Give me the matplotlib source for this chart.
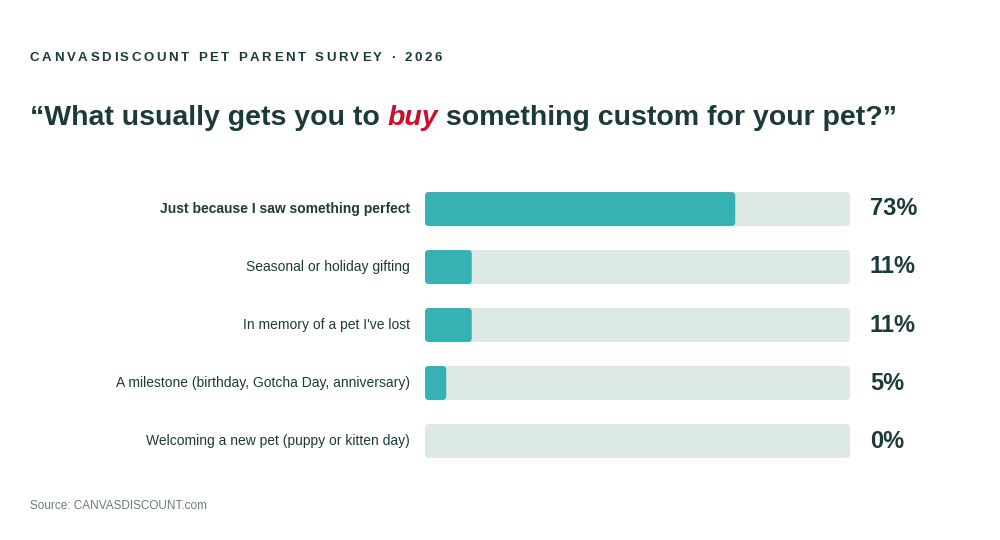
import matplotlib.pyplot as plt
from matplotlib.patches import FancyBboxPatch

plt.rcParams['font.family'] = ['Liberation Sans', 'DejaVu Sans']

categories = [
    "Just because I saw something perfect",
    "Seasonal or holiday gifting",
    "In memory of a pet I've lost",
    "A milestone (birthday, Gotcha Day, anniversary)",
    "Welcoming a new pet (puppy or kitten day)",
]
values = [73, 11, 11, 5, 0]
value_labels = ["73%", "11%", "11%", "5%", "0%"]

DARK = "#1c3a3a"
TEAL = "#36b1b4"
TRACK = "#dde9e5"
RED = "#c8102e"

fig = plt.figure(figsize=(10, 5.4), dpi=100)
fig.patch.set_facecolor("white")
ax = fig.add_axes([0.425, 70 / 540, 0.425, 290 / 540])
ax.set_xlim(0, 100)
ax.set_ylim(4.5, -0.5)
ax.axis("off")

bh = 34 / 58
asp = (100 / 425) ** -1 / 58  # px-per-unit ratio for rounding
asp = 4.25 / 58
for i, (cat, v, lab) in enumerate(zip(categories, values, value_labels)):
    ax.add_patch(FancyBboxPatch((0, i - bh / 2), 100, bh,
                                boxstyle="round,pad=0,rounding_size=0.9",
                                mutation_aspect=asp, fc=TRACK, ec="none"))
    if v > 0:
        ax.add_patch(FancyBboxPatch((0, i - bh / 2), v, bh,
                                    boxstyle="round,pad=0,rounding_size=0.9",
                                    mutation_aspect=asp, fc=TEAL, ec="none"))
    ax.text(-3.5, i, cat, ha="right", va="center", fontsize=10, color=DARK,
            fontweight="bold" if i == 0 else "normal")
    ax.text(104.7, i, lab, ha="left", va="center", fontsize=17,
            fontweight="bold", color=DARK)

fig.canvas.draw()
r = fig.canvas.get_renderer()

# letter-spaced header
x = 30
for ch in "CANVASDISCOUNT PET PARENT SURVEY · 2026":
    t = fig.text(x / 1000, 1 - 58 / 540, ch, fontsize=9.5, fontweight="bold",
                 color=DARK, va="center", ha="left")
    w = t.get_window_extent(r).width if ch != " " else 4
    x += w + 2.6

# title with italic red word
x = 30
for part, col, sty in [("\u201cWhat usually gets you to ", DARK, "normal"),
                       ("buy", RED, "italic"),
                       (" something custom for your pet?\u201d", DARK, "normal")]:
    t = fig.text(x / 1000, 1 - 118 / 540, part, fontsize=20.5, fontweight="bold",
                 fontstyle=sty, color=col, va="center", ha="left")
    x += t.get_window_extent(r).width

fig.text(0.03, 1 - 506 / 540, "Source: CANVASDISCOUNT.com", fontsize=8.5,
         color="#6b7a7a", va="center")

fig.savefig("out.png", dpi=100)
